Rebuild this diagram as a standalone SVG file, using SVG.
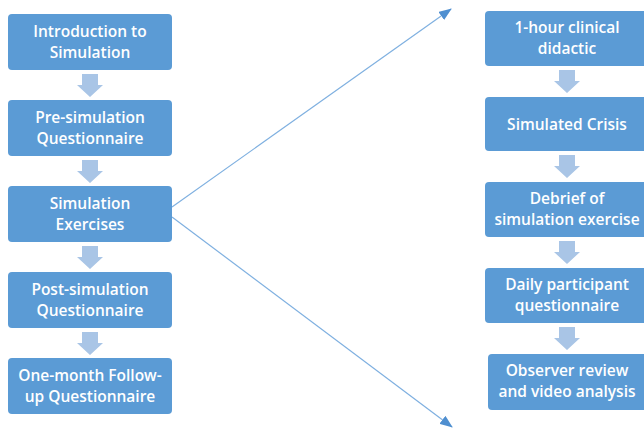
<svg xmlns="http://www.w3.org/2000/svg" width="644" height="428" viewBox="0 0 644 428">
<style>
.box{fill:#5b9bd5}
.t{fill:#fff;font-family:"Open Sans","Liberation Sans",sans-serif;font-size:15.5px;font-weight:600;text-anchor:middle}
.da{fill:#a9c5e6}
.ln{stroke:#7fb0e0;stroke-width:1.2;fill:none}
</style>
<defs>
<marker id="ah" markerWidth="13" markerHeight="10" refX="12" refY="5" orient="auto" markerUnits="userSpaceOnUse">
<path d="M0,0 L13,5 L0,10 Z" fill="#4f8fd0"/>
</marker>
<path id="dn" d="M-8,0 H8 V11 H13 L0,23 L-13,11 H-8 Z"/>
</defs>
<rect width="644" height="428" fill="#fff"/>
<g id="connectors">
<line class="ln" x1="172" y1="207" x2="451" y2="9" marker-end="url(#ah)"/>
<line class="ln" x1="172" y1="217" x2="452" y2="427" marker-end="url(#ah)"/>
<use href="#dn" class="da" x="90" y="74"/>
<use href="#dn" class="da" x="90" y="160"/>
<use href="#dn" class="da" x="90" y="246"/>
<use href="#dn" class="da" x="90" y="332"/>
<use href="#dn" class="da" x="567" y="70"/>
<use href="#dn" class="da" x="567" y="155"/>
<use href="#dn" class="da" x="567" y="241"/>
<use href="#dn" class="da" x="567" y="327"/>
</g>
<g id="n1"><rect class="box" x="8" y="14" width="164" height="56" rx="4"/><text class="t" x="90" y="37">Introduction to</text><text class="t" x="90" y="58">Simulation</text></g>
<g id="n2"><rect class="box" x="8" y="100" width="164" height="56" rx="4"/><text class="t" x="90" y="123">Pre-simulation</text><text class="t" x="90" y="144">Questionnaire</text></g>
<g id="n3"><rect class="box" x="8" y="186" width="164" height="56" rx="4"/><text class="t" x="90" y="209">Simulation</text><text class="t" x="90" y="230">Exercises</text></g>
<g id="n4"><rect class="box" x="8" y="272" width="164" height="56" rx="4"/><text class="t" x="90" y="295">Post-simulation</text><text class="t" x="90" y="316">Questionnaire</text></g>
<g id="n5"><rect class="box" x="8" y="358" width="164" height="56" rx="4"/><text class="t" x="90" y="381">One-month Follow-</text><text class="t" x="90" y="402">up Questionnaire</text></g>
<g id="r1"><rect class="box" x="485" y="11" width="164" height="55" rx="4"/><text class="t" x="567" y="33">1-hour clinical</text><text class="t" x="567" y="54">didactic</text></g>
<g id="r2"><rect class="box" x="485" y="97" width="164" height="54" rx="4"/><text class="t" x="567" y="130">Simulated Crisis</text></g>
<g id="r3"><rect class="box" x="485" y="182" width="164" height="55" rx="4"/><text class="t" x="567" y="204">Debrief of</text><text class="t" x="567" y="225">simulation exercise</text></g>
<g id="r4"><rect class="box" x="485" y="268" width="164" height="55" rx="4"/><text class="t" x="567" y="290">Daily participant</text><text class="t" x="567" y="311">questionnaire</text></g>
<g id="r5"><rect class="box" x="488" y="354" width="164" height="56" rx="4"/><text class="t" x="567" y="376">Observer review</text><text class="t" x="567" y="397">and video analysis</text></g>
</svg>
